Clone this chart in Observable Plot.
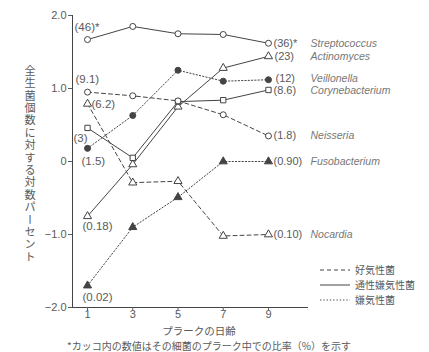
<!DOCTYPE html>
<html><head><meta charset="utf-8">
<script src="https://cdn.jsdelivr.net/npm/d3@7"></script>
<script src="https://cdn.jsdelivr.net/npm/@observablehq/plot@0.6"></script>
<style>
body{margin:0;background:#fff}
svg{font-family:"Liberation Sans",Arial,sans-serif}
.jp{font-family:"Noto Sans CJK JP","Noto Sans",sans-serif}
</style>
</head><body><div id="chart"></div>
<script>
// ---- data ----
const days = [1, 3, 5, 7, 9];
const species = ["Streptococcus","Actinomyces","Veillonella","Corynebacterium","Neisseria","Fusobacterium","Nocardia"];
const groups  = ["通性嫌気性菌","通性嫌気性菌","嫌気性菌","通性嫌気性菌","好気性菌","嫌気性菌","好気性菌"];
const streptococcus   = [1.67, 1.85, 1.75, 1.74, 1.62];
const actinomyces     = [-0.75, -0.04, 0.75, 1.28, 1.44];
const veillonella     = [0.18, 0.63, 1.25, 1.10, 1.12];
const corynebacterium = [0.46, 0.05, 0.82, 0.84, 0.98];
const neisseria       = [0.95, 0.90, 0.83, 0.64, 0.35];
const fusobacterium   = [-1.70, -0.90, -0.49, 0.00, 0.00];
const nocardia        = [0.79, -0.29, -0.27, -1.02, -1.00];
const startLabels = ["(46)*","(0.18)","(1.5)","(3)","(9.1)","(0.02)","(6.2)"];
const endLabels   = ["(36)*","(23)","(12)","(8.6)","(1.8)","(0.90)","(0.10)"];
const yTicks = [2, 1, 0, -1, -2];
const legendItems = ["好気性菌","通性嫌気性菌","嫌気性菌"];

// ---- styling / layout ----
const symbols = ["circle","triangle","circle","square","circle","triangle","triangle"];
const filled  = [false,false,true,false,false,true,false];
const dashes = {"好気性菌":"4,3","通性嫌気性菌":null,"嫌気性菌":"1.3,2"};
const startOffsets = [[-13,-12],[-5,10],[-6,13],[-14,10],[-12,-13],[-5,12],[4,0]];
const endOffsets = [[5,0],[6,0],[7,-1],[5,1],[5,0],[5,0],[5,0]];
const INK = "#444", TXT = "#5a5a5a";

const values = [streptococcus, actinomyces, veillonella, corynebacterium, neisseria, fusobacterium, nocardia];
const rows = [];
species.forEach((s, i) => days.forEach((d, j) => rows.push({
  species: s, group: groups[i], day: d, v: values[i][j],
  symbol: symbols[i], filled: filled[i], idx: i
})));
const firsts = rows.filter(r => r.day === days[0]);
const lasts = rows.filter(r => r.day === days[days.length - 1]);

const xDomain = [0.336, 10.77];
const yDomain = [-2, 2];

const marks = [
  Plot.ruleX([xDomain[0]], {stroke: INK, strokeWidth: 1}),
  Plot.ruleY([yDomain[0]], {stroke: INK, strokeWidth: 1}),
  Plot.axisY({ticks: yTicks, label: null, tickSize: 4, tickPadding: 2, fontSize: 11, color: TXT,
    tickFormat: d => d === 0 ? "0" : (d < 0 ? "−" : "") + Math.abs(d).toFixed(1)}),
  Plot.axisX({ticks: days, label: null, tickSize: 3, tickPadding: 0, fontSize: 11, color: TXT, tickFormat: d => String(d)}),
];
for (const g of legendItems) {
  marks.push(Plot.line(rows.filter(r => r.group === g), {
    x: "day", y: "v", z: "species", stroke: INK, strokeWidth: 1,
    strokeDasharray: dashes[g] || undefined
  }));
}
marks.push(
  Plot.dot(rows.filter(r => !r.filled), {x: "day", y: "v", symbol: "symbol", r: 3, stroke: INK, fill: "white", strokeWidth: 1}),
  Plot.dot(rows.filter(r => r.filled), {x: "day", y: "v", symbol: "symbol", r: 3, stroke: INK, fill: INK, strokeWidth: 1})
);
firsts.forEach(r => {
  const [dx, dy] = startOffsets[r.idx];
  marks.push(Plot.text([r], {x: "day", y: "v", text: () => startLabels[r.idx], dx, dy,
    textAnchor: "start", fontSize: 11.5, fill: TXT}));
});
lasts.forEach(r => {
  const [dx, dy] = endOffsets[r.idx];
  marks.push(Plot.text([r], {x: "day", y: "v", text: () => endLabels[r.idx], dx, dy,
    textAnchor: "start", fontSize: 11, fill: TXT}));
  marks.push(Plot.text([r], {x: "day", y: "v", text: "species", dx: 42, dy, textAnchor: "start",
    fontSize: 10.5, fontStyle: "italic", fill: "#777"}));
});

const svg = Plot.plot({
  width: 429, height: 352,
  marginLeft: 72, marginRight: 121, marginTop: 15, marginBottom: 45,
  x: {domain: xDomain, axis: null},
  y: {domain: yDomain, axis: null},
  style: {background: "white", color: TXT},
  marks
});

// extra annotations: titles, legend, caption
const s = d3.select(svg);
s.append("text").attr("class", "jp")
  .attr("x", 30).attr("y", 65).attr("text-anchor", "start")
  .style("writing-mode", "vertical-rl").style("text-orientation", "upright")
  .attr("font-size", 11.2).attr("fill", TXT).attr("letter-spacing", 1.2)
  .text("全生菌個数に対する対数パーセント");
s.append("text").attr("class", "jp").attr("x", 199).attr("y", 335)
  .attr("text-anchor", "middle").attr("font-size", 10.5).attr("fill", TXT).text("プラークの日齢");
s.append("text").attr("class", "jp").attr("x", 67).attr("y", 350).attr("text-anchor", "start")
  .attr("font-size", 10).attr("fill", TXT).text("*カッコ内の数値はその細菌のプラーク中での比率（%）を示す");
const ly = [270, 285, 300];
legendItems.forEach((g, i) => {
  s.append("line").attr("x1", 320).attr("x2", 350).attr("y1", ly[i]).attr("y2", ly[i])
    .attr("stroke", INK).attr("stroke-width", 1)
    .attr("stroke-dasharray", dashes[g] || null);
  s.append("text").attr("class", "jp").attr("x", 355).attr("y", ly[i]).attr("dy", "0.35em")
    .attr("text-anchor", "start")
    .attr("font-size", 10).attr("fill", TXT).text(g);
});

document.getElementById("chart").appendChild(svg);
</script>
</body></html>
